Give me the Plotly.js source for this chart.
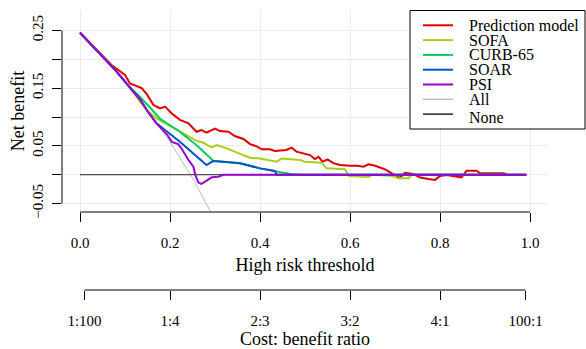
<!DOCTYPE html>
<html>
<head>
<meta charset="utf-8">
<script src="https://cdn.plot.ly/plotly-3.0.1.min.js"></script>
<style>html,body{margin:0;padding:0;background:#fff;}#chart{width:586px;height:349px;}</style>
</head>
<body>
<div id="chart"></div>
<script>
// ---- Data ----
var modelX = [0, 0.05, 0.07, 0.10, 0.111, 0.137, 0.148, 0.163, 0.178, 0.189, 0.204, 0.222, 0.241, 0.259, 0.270, 0.281, 0.300, 0.311, 0.330, 0.344, 0.363, 0.378, 0.393, 0.404, 0.422, 0.433, 0.459, 0.470, 0.481, 0.496, 0.511, 0.522, 0.530, 0.539, 0.550, 0.563, 0.578, 0.600, 0.615, 0.630, 0.641, 0.656, 0.667, 0.678, 0.693, 0.704, 0.711, 0.722, 0.741, 0.756, 0.774, 0.789, 0.800, 0.815, 0.848, 0.859, 0.881, 0.889, 0.941, 0.948];
var modelY = [0.246, 0.205, 0.190, 0.173, 0.158, 0.150, 0.140, 0.121, 0.115, 0.118, 0.106, 0.095, 0.089, 0.0745, 0.0775, 0.073, 0.080, 0.0757, 0.0745, 0.067, 0.062, 0.053, 0.049, 0.044, 0.044, 0.041, 0.043, 0.047, 0.040, 0.037, 0.034, 0.027, 0.031, 0.0225, 0.0267, 0.020, 0.017, 0.0156, 0.0156, 0.014, 0.018, 0.0156, 0.0128, 0.0094, 0.0024, -0.0035, -0.005, 0.0035, 0.0012, -0.005, -0.0075, -0.009, -0.0023, -0.0005, -0.0045, 0.007, 0.007, 0.0024, 0.0024, 0.0007];

var sofaX = [0, 0.05, 0.08, 0.11, 0.133, 0.150, 0.170, 0.204, 0.230, 0.256, 0.274, 0.292, 0.304, 0.326, 0.356, 0.378, 0.400, 0.437, 0.448, 0.474, 0.489, 0.500, 0.537, 0.548, 0.589, 0.598, 0.641, 0.650, 0.696, 0.707, 0.730, 0.737, 0.99];
var sofaY = [0.246, 0.205, 0.180, 0.152, 0.1265, 0.111, 0.0977, 0.083, 0.0717, 0.060, 0.0555, 0.0475, 0.0515, 0.0457, 0.036, 0.0295, 0.028, 0.0225, 0.028, 0.0267, 0.0255, 0.0225, 0.0208, 0.011, 0.0095, -0.0023, -0.004, 0, -0.0023, -0.006, -0.006, 0, 0];

var curbX = [0, 0.05, 0.08, 0.11, 0.133, 0.156, 0.178, 0.222, 0.263, 0.296, 0.304, 0.356, 0.400, 0.437, 0.467, 0.490, 0.99];
var curbY = [0.246, 0.205, 0.180, 0.152, 0.135, 0.116, 0.097, 0.0745, 0.0485, 0.0243, 0.0237, 0.0198, 0.011, 0.0055, 0.0012, 0, 0];

var soarX = [0, 0.05, 0.08, 0.11, 0.133, 0.150, 0.170, 0.189, 0.222, 0.281, 0.296, 0.356, 0.400, 0.433, 0.437, 0.99];
var soarY = [0.246, 0.205, 0.180, 0.152, 0.132, 0.110, 0.089, 0.0775, 0.057, 0.0168, 0.0237, 0.0198, 0.011, 0.0064, 0, 0];

var psiX = [0, 0.05, 0.08, 0.11, 0.133, 0.150, 0.170, 0.193, 0.204, 0.218, 0.226, 0.241, 0.252, 0.256, 0.263, 0.270, 0.278, 0.293, 0.307, 0.319, 0.993];
var psiY = [0.246, 0.205, 0.180, 0.152, 0.1307, 0.110, 0.089, 0.070, 0.057, 0.053, 0.045, 0.0255, 0.0139, 0.0, -0.0135, -0.016, -0.012, -0.0045, -0.0035, 0, 0];

var allX = [0, 0.05, 0.10, 0.15, 0.20, 0.25, 0.30];
var allY = [0.246, 0.205, 0.161, 0.112, 0.057, -0.006, -0.078];

var noneX = [0, 0.99];
var noneY = [0, 0];

var seriesNames = ["Prediction model", "SOFA", "CURB-65", "SOAR", "PSI", "All", "None"];
var seriesColors = ["#DD0000", "#A6CF1C", "#00CC5E", "#0052CC", "#9C00CC", "#BBBBBB", "#222222"];

var xTickVals = [0, 0.2, 0.4, 0.6, 0.8, 1.0];
var xTickText = ["0.0", "0.2", "0.4", "0.6", "0.8", "1.0"];
var yTickVals = [-0.05, 0, 0.05, 0.10, 0.15, 0.20, 0.25];
var yTickText = ["\u22120.05", "", "0.05", "", "0.15", "", "0.25"];
var cbLabels = ["1:100", "1:4", "2:3", "3:2", "4:1", "100:1"];
var cbThresholds = [1/101, 0.2, 0.4, 0.6, 0.8, 100/101];

// ---- Layout geometry ----
var FONT = "Liberation Serif, Times New Roman, serif";
var W = 586, H = 349;
var M = {l: 62, r: 38, t: 10, b: 59};
var PW = W - M.l - M.r, PH = H - M.t - M.b;
function pX(px) { return (px - M.l) / PW; }
function pY(py) { return (H - M.b - py) / PH; }
var yDomLow = pY(212);

function tr(x, y, i, w) {
  return {x: x, y: y, type: "scatter", mode: "lines", name: seriesNames[i],
    line: {color: seriesColors[i], width: w}, showlegend: false, hoverinfo: "skip",
    xaxis: "x", yaxis: "y"};
}
var data = [
  tr(allX, allY, 5, 1),
  tr(noneX, noneY, 6, 1),
  tr(modelX, modelY, 0, 2),
  tr(sofaX, sofaY, 1, 2),
  tr(curbX, curbY, 2, 2),
  tr(soarX, soarY, 3, 2),
  tr(psiX, psiY, 4, 2),
  {x: [0.5], y: [null], type: "scatter", mode: "lines", xaxis: "x2", yaxis: "y", showlegend: false, hoverinfo: "skip"}
];

var shapes = [
  {type: "line", xref: "x", yref: "paper", x0: 0, x1: 1, y0: yDomLow, y1: yDomLow, line: {color: "#000", width: 1}},
  {type: "line", xref: "x", yref: "paper", x0: cbThresholds[0], x1: cbThresholds[cbThresholds.length - 1], y0: 0, y1: 0, line: {color: "#000", width: 1}},
  {type: "line", xref: "paper", yref: "y", x0: 0, x1: 0, y0: -0.05, y1: 0.25, line: {color: "#000", width: 1}},
  {type: "rect", xref: "paper", yref: "paper", x0: pX(410), x1: pX(585), y0: pY(129), y1: pY(10.5), fillcolor: "#fff", line: {color: "#000", width: 1}}
];
var annotations = [];
for (var i = 0; i < seriesNames.length; i++) {
  var rowY = 25.3 + 14.8 * i;
  shapes.push({type: "line", xref: "paper", yref: "paper", x0: pX(423), x1: pX(453), y0: pY(rowY), y1: pY(rowY),
    line: {color: seriesColors[i], width: i < 5 ? 2 : 1.5}});
  annotations.push({xref: "paper", yref: "paper", x: pX(467), y: pY(rowY + (i === 6 ? 3.5 : 0)), xanchor: "left", yanchor: "middle",
    text: seriesNames[i], showarrow: false, font: {family: FONT, size: 16, color: "#000"}});
}

var layout = {
  width: W, height: H, margin: M,
  paper_bgcolor: "#fff", plot_bgcolor: "#fff",
  font: {family: FONT, size: 15, color: "#000"},
  showlegend: false,
  xaxis: {
    range: [-0.04, 1.04], tickvals: xTickVals, ticktext: xTickText,
    ticks: "outside", ticklen: 9, tickcolor: "#000", tickwidth: 1,
    showgrid: true, gridcolor: "#ebebeb", gridwidth: 1, zeroline: false, showline: false,
    tickfont: {family: FONT, size: 15, color: "#000"}, ticklabelstandoff: 8,
    title: {text: "High risk threshold", font: {family: FONT, size: 18, color: "#000"}, standoff: 8},
    anchor: "y", fixedrange: true
  },
  xaxis2: {
    overlaying: "x", anchor: "free", position: 0, side: "bottom",
    range: [-0.04, 1.04], tickvals: cbThresholds, ticktext: cbLabels,
    ticks: "outside", ticklen: 9, tickcolor: "#000", tickwidth: 1,
    showgrid: false, zeroline: false, showline: false,
    tickfont: {family: FONT, size: 15, color: "#000"}, ticklabelstandoff: 8,
    title: {text: "Cost: benefit ratio", font: {family: FONT, size: 18, color: "#000"}, standoff: 15},
    fixedrange: true
  },
  yaxis: {
    domain: [yDomLow, 1], range: [-0.0646, 0.2854],
    tickvals: yTickVals, ticktext: yTickText, tickangle: -90,
    ticks: "outside", ticklen: 9, tickcolor: "#000", tickwidth: 1,
    showgrid: true, gridcolor: "#ebebeb", gridwidth: 1, zeroline: false, showline: false,
    tickfont: {family: FONT, size: 15, color: "#000"}, ticklabelstandoff: 3,
    title: {text: "Net benefit", font: {family: FONT, size: 18, color: "#000"}, standoff: 0},
    fixedrange: true
  },
  shapes: shapes,
  annotations: annotations
};

Plotly.newPlot("chart", data, layout, {displayModeBar: false, staticPlot: true});
</script>
</body>
</html>
